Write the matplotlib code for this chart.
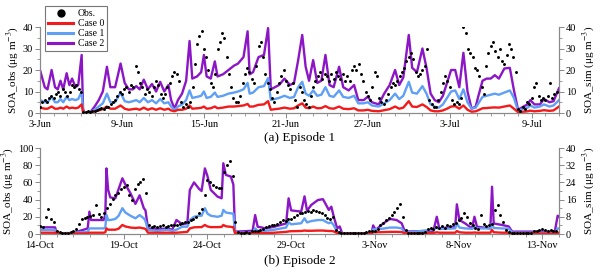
import numpy as np
import pandas as pd
import matplotlib
matplotlib.use("Agg")
import matplotlib.pyplot as plt
from matplotlib.ticker import MultipleLocator, FixedLocator, FixedFormatter
from matplotlib.lines import Line2D
import matplotlib.dates as mdates

plt.rcParams['font.family'] = ['Liberation Serif', 'DejaVu Serif']
plt.rcParams['mathtext.fontset'] = 'stix'

# ---------------- Episode 1 (3-Jun .. 11-Jul) ----------------
ep1_start = '2015-06-03'
ep1_days = 38
ep1_sim_day = [0, 0.35, 0.55, 0.85, 1.1, 1.3, 1.5, 1.7, 1.95, 2.15,
               2.35, 2.6, 2.8, 3.05, 3.15, 3.25, 3.7, 4.0, 4.3, 4.6,
               4.9, 5.15, 5.5, 5.9, 6.2, 6.5, 6.8, 7.05, 7.3, 7.6,
               7.9, 8.2, 8.5, 8.8, 9.1, 9.4, 9.6, 9.85, 10.1, 10.4,
               10.7, 10.95, 11.15, 11.5, 11.8, 12.0, 12.2, 12.5, 12.8, 13.0,
               13.4, 13.8, 14.2, 14.5, 14.9, 15.2, 15.35, 15.6, 16.0, 16.4,
               16.7, 16.9, 17.2, 17.5, 17.9, 18.3, 18.6, 18.9, 19.2, 19.45,
               19.7, 20.0, 20.3, 20.6, 20.9, 21.2, 21.5, 21.9, 22.2, 22.6,
               23.0, 23.3, 23.7, 24.0, 24.3, 24.8, 25.2, 25.6, 26.0, 26.3,
               26.6, 27.0, 27.25, 27.6, 28.0, 28.3, 28.6, 28.9, 29.2, 29.5,
               29.8, 30.1, 30.4, 30.7, 31.0, 31.3, 31.6, 31.9, 32.1, 32.4,
               32.7, 33.0, 33.3, 33.6, 34.0, 34.4, 34.7, 35.0, 35.4, 35.7,
               35.9, 36.2, 36.6, 36.9, 37.3, 37.6, 38.0]
ep1_case2 = [20, 12, 11, 20, 12, 11, 15, 11, 18.5, 13,
             16, 12, 13, 27, 2, 0, 0.5, 3, 6, 10,
             21.5, 12, 12, 23, 14, 11, 11, 12.5, 11, 15.5,
             11, 13.5, 10, 14.5, 10, 13, 6, 2, 6, 9,
             15, 33.5, 16, 17, 19, 27, 17, 16, 24, 17,
             18, 20, 22, 23, 26, 38, 18, 19, 26, 27,
             39.5, 11, 12, 13, 16, 13, 14, 24.5, 36.3, 21.5,
             15, 24.6, 14, 15, 27, 13, 12, 21.5, 12, 10.5,
             13, 6, 6, 7.6, 5, 4, 9, 13, 20, 13,
             16.5, 36.3, 21, 19, 30, 21, 9, 6, 5, 8,
             14, 20, 20, 12, 28, 10, 2, 3, 8, 15,
             16, 16, 17.6, 16, 20.7, 21, 10.6, 1.5, 3, 4,
             6, 4, 4, 6.5, 5, 5.5, 11.5]
ep1_case1 = [6, 5, 5, 7.5, 5, 5, 6.5, 5, 7.5, 6,
             6.5, 6, 6.5, 10, 1, 0, 0.5, 1.5, 3, 4.5,
             9, 5, 5, 9.5, 5.5, 5, 5.5, 6, 5, 7,
             5, 6, 4.5, 6.5, 4.5, 5, 3, 1.5, 3, 4,
             6, 10.5, 7, 7.5, 8, 10, 7, 7.5, 9.5, 7.5,
             8, 9, 9.5, 10, 11, 14, 9, 9.5, 12, 12.5,
             16.2, 6, 6.5, 7, 8, 7, 7.5, 12, 14.5, 9,
             8, 10.5, 8, 8.5, 12, 8, 7.5, 10.5, 7.5, 7,
             8, 4.5, 4.5, 5, 3.5, 3, 4.5, 6, 9, 6.5,
             8, 14.5, 9.5, 9, 12.5, 9, 4, 3, 2.5, 4,
             7, 10, 10.5, 6.5, 11, 5, 2, 2.5, 4.5, 7.5,
             8, 8.5, 9, 8.5, 9.5, 10.5, 7, 1, 2, 2.5,
             3.5, 2.5, 3, 4, 3, 3.5, 6]
ep1_case0 = [2.5, 2, 2, 3, 2, 2, 2.5, 2, 3, 2.2,
             2.5, 2.2, 2.5, 4, 0.5, 0, 0.3, 0.8, 1.2, 1.8,
             3, 2, 2, 3.5, 2, 1.5, 1.8, 2, 1.5, 2.5,
             1.5, 2.2, 1.5, 2.2, 1.5, 2, 1.2, 0.8, 1.5, 1.5,
             2, 3.5, 2, 2.2, 2.4, 3, 2, 2.2, 3, 2.2,
             2.5, 3, 3, 3.2, 3.5, 4.2, 3, 3, 3.8, 4,
             5.5, 1.5, 1.8, 2, 2.5, 2, 2.2, 3.5, 4.5, 2.5,
             2.2, 3, 2.2, 2.3, 3.2, 2.2, 2, 3, 2, 1.8,
             2.2, 1.2, 1.2, 1.5, 1, 0.8, 1.3, 1.8, 3, 2,
             2.5, 5.5, 3, 2.8, 4, 2.8, 1.2, 0.8, 0.8, 1.2,
             2, 3, 3.2, 2, 3.5, 1.5, 0.6, 0.8, 1.3, 2.2,
             2.3, 2.5, 2.6, 2.5, 3, 3.5, 2, 0.4, 0.6, 0.8,
             1.1, 0.8, 1, 1.3, 1, 1.2, 3]
# observations, one row per day, values every 4 h
ep1_obs = [
    [3, 5, 6, 5, 7, 8], [7, 9, 10, 8, 11, 10], [8, 10, 13, 12, 13, 11],
    [10, 0.5, 0.3, 0.8, 0.5, 1], [1, 1.5, 2, 2.5, 2, 3], [3, 4, 5, 6, 8, 10],
    [9, 11, 12, 10, 13, 12], [22, 19, 14, 12, 9, 11], [10, 8, 12, 15, 13, 9],
    [7, 9, 12, 14, 17, 19], [18, 15, 5, 3, 4, 3], [5, 12, 23, 32, 36, 38],
    [30, 26, 20, 14, 12, 18], [30, 33, 37, 35, 26, 18], [12, 7, 5, 5, 8, 14],
    [18, 21, 19, 16, 14, 22], [31, 33, 26, 18, 14, 11], [7, 5, 10, 14, 17, 20],
    [15, 13, 11, 14, 6, 3], [12, 10, 6, 4, 3, 8], [12, 15, 17, 19, 16, 18],
    [17, 15, 18, 16, 19, 17], [16, 18, 15, 17, 15, 20], [22, 20, 23, 18, 15, 10],
    [8, 6, 12, 19, 17, 7], [5, 4, 6, 9, 12, 14], [13, 15, 17, 19, 21, 24],
    [26, 28, 25, 19, 17, 18], [20, 22, 30, 6, 4, 3], [3, 6, 10, 14, 17, 15],
    [12, 6, 4, 5, 4, 7], [40, 37, 30, 28, 26, 21], [20, 17, 12, 9, 22, 28],
    [31, 33, 29, 26, 30, 24], [23, 27, 32, 30, 26, 19], [2, 1, 3, 2, 5, 4],
    [7, 12, 14, 8, 6, 7], [6, 8, 14, 7, 9, 10]]
ep1_tick_dates = ['2015-06-03', '2015-06-09', '2015-06-15', '2015-06-21',
                  '2015-06-27', '2015-07-03', '2015-07-09']
ep1_tick_labels = ['3-Jun', '9-Jun', '15-Jun', '21-Jun', '27-Jun', '3-Jul', '9-Jul']

# ---------------- Episode 2 (14-Oct .. 14-Nov) ----------------
ep2_start = '2015-10-14'
ep2_days = 31
ep2_sim_day = [0, 0.9, 1.0, 1.9, 2.85, 2.95, 3.05, 3.8, 3.9, 3.97,
               4.07, 4.2, 4.5, 4.7, 4.92, 5.1, 5.4, 5.7, 5.95, 6.2,
               6.3, 6.45, 7.0, 7.6, 7.9, 8.15, 8.5, 8.8, 8.95, 9.2,
               9.5, 9.65, 9.85, 10.0, 10.2, 10.6, 10.85, 10.95, 11.1, 11.4,
               11.55, 11.65, 12.7, 12.85, 13.0, 13.5, 14.0, 14.7, 14.85, 15.0,
               15.6, 15.8, 15.95, 16.2, 16.6, 16.9, 17.05, 17.25, 17.4, 17.55,
               17.75, 17.9, 18.05, 19.8, 19.9, 20.05, 20.5, 20.9, 21.3, 21.6,
               21.8, 23.5, 23.7, 23.85, 24.8, 24.9, 25.05, 25.4, 25.8, 25.95,
               26.1, 26.9, 27.0, 27.1, 27.6, 28.0, 28.2, 30.75, 30.92, 31.0]
ep2_case2 = [3.1, 3.1, 0.3, 0.3, 2.6, 10.4, 6.5, 6.5, 8.8, 30.5,
             20.5, 17, 16.6, 21, 25.9, 23, 19, 14, 18, 12,
             11, 2.6, 2.2, 2.6, 2, 6.5, 4.5, 5, 20.5, 24,
             21, 20, 30.5, 27, 20.5, 17.4, 16.6, 32.9, 27.5, 26.7,
             23, 1.1, 1.5, 8.8, 3.4, 2.6, 3.4, 4.9, 16.6, 11,
             10.4, 17.5, 10.8, 13.5, 15.8, 16.2, 14.1, 11.2, 12.7, 8,
             2.6, 3.5, 0.3, 0.3, 4, 1.9, 4.9, 7, 6.5, 5,
             1.1, 1.5, 8, 2.6, 3.4, 13.8, 6.5, 4.9, 2.6, 8,
             3.4, 2.6, 22, 4.9, 4.2, 3.5, 1.1, 1.1, 8.5, 8]
ep2_case1 = [1.9, 1.9, 0.3, 0.5, 1, 2.6, 2.6, 2.6, 3, 8.8,
             6.5, 6.5, 7, 8.5, 12, 10, 8.5, 7.3, 8.8, 7.3,
             6, 1.9, 1.5, 2, 1.5, 2, 3.4, 3.4, 6.5, 8,
             8.5, 8.5, 12, 9.5, 8.5, 8, 8.5, 11.2, 10, 9.6,
             9.5, 0.6, 0.6, 2.6, 1.5, 1.5, 2, 3, 5.5, 4.5,
             5, 7.3, 5.4, 6, 6.5, 6.5, 5.8, 5, 5.5, 4,
             1, 0.8, 0.4, 0.4, 2.2, 2.2, 2.5, 3, 3, 2.6,
             0.6, 2, 3, 2.3, 2.6, 4.9, 3, 2.6, 2.4, 3.2,
             2.6, 2.6, 4.9, 2.8, 2.6, 2.5, 0.6, 0.6, 2.6, 2.6]
ep2_case0 = [0.6, 0.6, 0.2, 0.2, 0.3, 0.6, 0.6, 0.6, 0.8, 2.6,
             2, 2, 2, 2.5, 4.2, 3.5, 3, 2.8, 3, 2.6,
             2.4, 0.6, 0.6, 0.6, 0.6, 0.6, 0.8, 1, 2.6, 3.1,
             3.2, 3.2, 4.2, 3.5, 3.2, 3.2, 3.3, 4.2, 3.6, 3.3,
             3.2, 0.3, 0.3, 0.5, 0.4, 0.4, 0.6, 1, 1.2, 1.3,
             1.4, 1.6, 1.5, 1.5, 1.6, 1.6, 1.5, 1.4, 1.4, 1.2,
             0.4, 0.3, 0.2, 0.2, 0.8, 0.8, 0.9, 1, 1, 0.9,
             0.3, 0.5, 0.8, 0.6, 0.6, 1.4, 0.8, 0.6, 0.6, 0.7,
             0.6, 0.6, 1.9, 0.8, 0.6, 0.6, 0.2, 0.2, 0.6, 0.6]
ep2_obs = [
    [9, 8, 20, 29, 18, 14], [4, 2, 1.5, 1, 1.5, 2], [4, 6, 12, 17, 19, 20],
    [21, 22, 34, 23, 20, 25], [30, 35, 41, 45, 48, 52], [55, 57, 45, 40, 52, 58],
    [60, 64, 48, 10, 8, 9], [8, 9, 10, 8, 9, 10], [10, 11, 12, 13, 14, 14],
    [16, 18, 20, 25, 29, 45], [63, 60, 57, 55, 54, 53], [72, 80, 85, 68, 14, 2],
    [1.5, 1, 2, 1.5, 3, 4], [4, 5, 6, 8, 9, 10], [11, 12, 14, 16, 15, 17],
    [18, 20, 22, 24, 25, 26], [27, 26, 28, 27, 26, 24], [22, 19, 17, 20, 5, 2],
    [1, 1, 0.8, 1, 1, 0.8], [1, 1, 1.5, 2, 3, 3.5], [4, 6, 10, 13, 16, 19],
    [22, 26, 30, 35, 20, 5], [1.5, 1, 1, 1, 1.5, 1], [2, 6, 7, 6, 8, 7],
    [9, 7, 10, 9, 12, 13], [16, 19, 24, 20, 13, 10], [7, 6, 22, 12, 9, 10],
    [12, 28, 34, 22, 14, 5], [2, 1, 1, 1, 1, 1], [1, 1, 1.5, 3, 4, 5],
    [6, 5, 4, 5, 3, 4]]
ep2_tick_dates = ['2015-10-14', '2015-10-19', '2015-10-24', '2015-10-29',
                  '2015-11-03', '2015-11-08', '2015-11-13']
ep2_tick_labels = ['14-Oct', '19-Oct', '24-Oct', '29-Oct', '3-Nov', '8-Nov', '13-Nov']

C0 = '#f21a1a'
C1 = '#5f9ff5'
C2 = '#8c16c6'
GRAY = '#8a8a8a'

fig = plt.figure(figsize=(6, 2.72), dpi=100)


def panel(rect, start, ndays, sim_day, c0, c1, c2, obs, tdates, tlabels,
          obs_max, obs_major, obs_minor, sim_max, sim_major, sim_minor, caption, cap_y):
    ax = fig.add_axes(rect)          # simulations (right axis)
    axo = ax.twinx()                 # observations (left axis)
    ax.yaxis.tick_right()
    ax.yaxis.set_label_position('right')
    axo.yaxis.tick_left()
    axo.yaxis.set_label_position('left')

    t0 = pd.Timestamp(start)
    ts = (t0 + pd.to_timedelta(np.array(sim_day), unit='D')).to_numpy()
    o = np.array(obs, dtype=float).ravel()
    to = (t0 + pd.to_timedelta(np.arange(o.size) * 4, unit='h')).to_numpy()

    ax.plot(ts, c0, color=C0, lw=1.7, zorder=3)
    ax.plot(ts, c1, color=C1, lw=1.7, zorder=2)
    ax.plot(ts, c2, color=C2, lw=1.7, zorder=1)
    axo.scatter(to, o, s=4.5, color='k', linewidths=0, zorder=5)

    ax.set_xlim(t0, t0 + pd.Timedelta(days=ndays))
    ax.set_ylim(0, sim_max)
    axo.set_ylim(0, obs_max)
    ax.yaxis.set_major_locator(MultipleLocator(sim_major))
    ax.yaxis.set_minor_locator(MultipleLocator(sim_minor))
    axo.yaxis.set_major_locator(MultipleLocator(obs_major))
    axo.yaxis.set_minor_locator(MultipleLocator(obs_minor))

    tick_nums = mdates.date2num(pd.to_datetime(tdates).to_pydatetime())
    ax.xaxis.set_major_locator(FixedLocator(tick_nums))
    ax.xaxis.set_major_formatter(FixedFormatter(tlabels))
    ax.xaxis.set_minor_locator(mdates.DayLocator())

    for a in (ax, axo):
        a.spines['top'].set_visible(False)
        for s in ('left', 'right', 'bottom'):
            a.spines[s].set_color(GRAY)
            a.spines[s].set_linewidth(0.8)
        a.tick_params(which='major', direction='out', length=3.5, width=0.7,
                      color=GRAY, labelsize=7.5, pad=1.5)
        a.tick_params(which='minor', direction='out', length=2, width=0.6, color=GRAY)

    ax.set_ylabel('SOA_sim (μg m$^{-3}$)', fontsize=8, labelpad=3, rotation=90)
    axo.set_ylabel('SOA_obs (μg m$^{-3}$)', fontsize=8, labelpad=1)
    fig.text(rect[0] + rect[2] / 2, cap_y, caption, ha='center', va='center', fontsize=9.5)
    return ax, axo


panel([40 / 600, 1 - 113 / 272, 519 / 600, 86 / 272], ep1_start, ep1_days, ep1_sim_day,
      ep1_case0, ep1_case1, ep1_case2, ep1_obs, ep1_tick_dates, ep1_tick_labels,
      40, 10, 5, 40, 10, 5, '(a) Episode 1', 1 - 138 / 272)
panel([40 / 600, 1 - 234 / 272, 519 / 600, 86 / 272], ep2_start, ep2_days, ep2_sim_day,
      ep2_case0, ep2_case1, ep2_case2, ep2_obs, ep2_tick_dates, ep2_tick_labels,
      100, 20, 10, 40, 8, 4, '(b) Episode 2', 1 - 261 / 272)

handles = [Line2D([], [], ls='', marker='o', color='k', markersize=5),
           Line2D([], [], color=C0, lw=2.2),
           Line2D([], [], color=C1, lw=2.2),
           Line2D([], [], color=C2, lw=2.2)]
labels = ['Obs.', 'Case 0', 'Case 1', 'Case 2']
leg = fig.legend(handles, labels, loc='upper left', bbox_to_anchor=(45 / 600, 1 - 6 / 272),
                 frameon=True, fancybox=False, edgecolor='#555555', fontsize=7,
                 handlelength=2.6, borderpad=0.3, labelspacing=0.12, handletextpad=0.5,
                 borderaxespad=0)
leg.get_frame().set_linewidth(0.8)

fig.savefig('out.png', dpi=100)
